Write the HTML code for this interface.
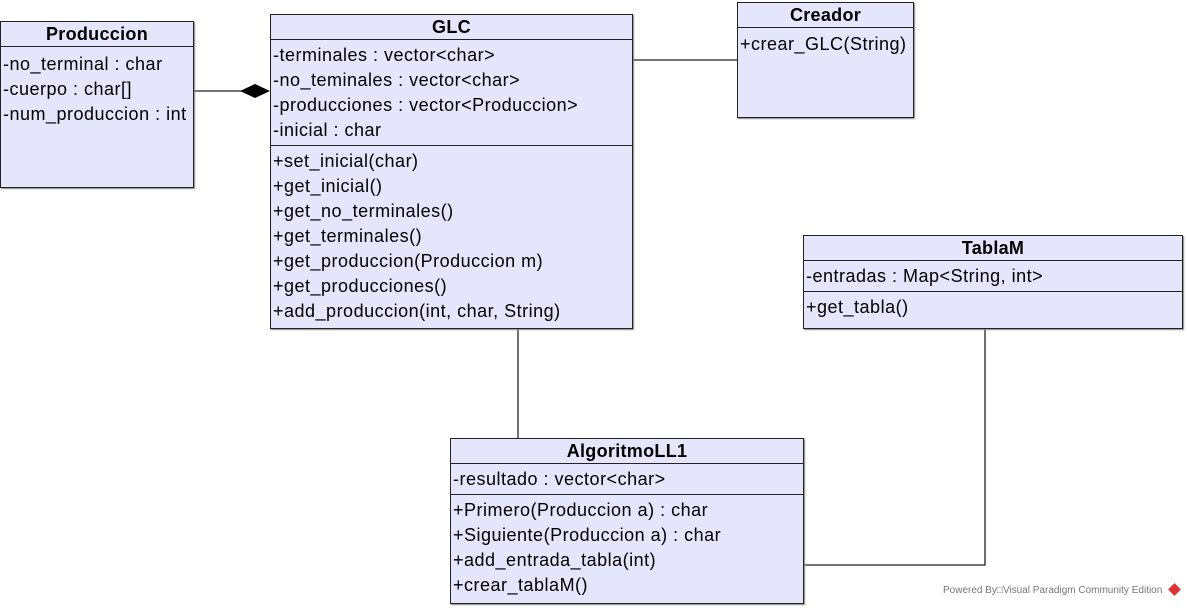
<!DOCTYPE html>
<html><head><meta charset="utf-8"><style>
body{margin:0;width:1187px;height:608px;background:#fff;position:relative;overflow:hidden;font-family:"Liberation Sans",sans-serif;font-size:18px;letter-spacing:0.5px;color:#000}
.b{position:absolute;background:#e5e5fb;border:1px solid #222;box-sizing:border-box;box-shadow:1px 1px 1px #888}
.h{height:24px;line-height:25px;text-align:center;font-weight:bold;border-bottom:1px solid #222;letter-spacing:0.3px}
.s{border-bottom:1px solid #222;padding:3px 0 2px}
.r{height:25px;line-height:25px;padding-left:2px;white-space:nowrap}
</style></head><body>
<svg width="1187" height="608" style="position:absolute;left:0;top:0">
<g stroke="#222" stroke-width="1.3" fill="none">
<line x1="193" y1="91" x2="242" y2="91"/>
<line x1="632" y1="60" x2="737" y2="60"/>
<line x1="518" y1="328" x2="518" y2="438"/>
<polyline points="985,328 985,565 803,565"/>
</g>
<polygon points="240,91 255,84 270,91 255,98" fill="#000"/>
</svg>

<div class="b" style="left:0;top:21px;width:194px;height:167px">
<div class="h">Produccion</div>
<div style="padding-top:5px">
<div class="r">-no_terminal : char</div>
<div class="r">-cuerpo : char[]</div>
<div class="r">-num_produccion : int</div></div>
</div>

<div class="b" style="left:270px;top:14px;width:363px;height:315px">
<div class="h">GLC</div>
<div class="s">
<div class="r">-terminales : vector&lt;char&gt;</div>
<div class="r">-no_teminales : vector&lt;char&gt;</div>
<div class="r">-producciones : vector&lt;Produccion&gt;</div>
<div class="r">-inicial : char</div></div>
<div style="padding-top:3px">
<div class="r">+set_inicial(char)</div>
<div class="r">+get_inicial()</div>
<div class="r">+get_no_terminales()</div>
<div class="r">+get_terminales()</div>
<div class="r">+get_produccion(Produccion m)</div>
<div class="r">+get_producciones()</div>
<div class="r">+add_produccion(int, char, String)</div></div>
</div>

<div class="b" style="left:737px;top:2px;width:177px;height:116px">
<div class="h">Creador</div>
<div style="padding-top:4px"><div class="r">+crear_GLC(String)</div></div>
</div>

<div class="b" style="left:803px;top:235px;width:380px;height:94px">
<div class="h">TablaM</div>
<div class="s"><div class="r">-entradas : Map&lt;String, int&gt;</div></div>
<div style="padding-top:3px"><div class="r">+get_tabla()</div></div>
</div>

<div class="b" style="left:450px;top:438px;width:354px;height:166px">
<div class="h">AlgoritmoLL1</div>
<div class="s"><div class="r">-resultado : vector&lt;char&gt;</div></div>
<div style="padding-top:3px">
<div class="r">+Primero(Produccion a) : char</div>
<div class="r">+Siguiente(Produccion a) : char</div>
<div class="r">+add_entrada_tabla(int)</div>
<div class="r">+crear_tablaM()</div></div>
</div>

<div style="position:absolute;left:943px;top:585px;font-size:10px;letter-spacing:0;color:#777;white-space:nowrap">Powered By&#9633;Visual Paradigm Community Edition</div>
<div style="position:absolute;left:1170px;top:585px;width:9px;height:9px;background:#d33;transform:rotate(45deg)"></div>
</body></html>
